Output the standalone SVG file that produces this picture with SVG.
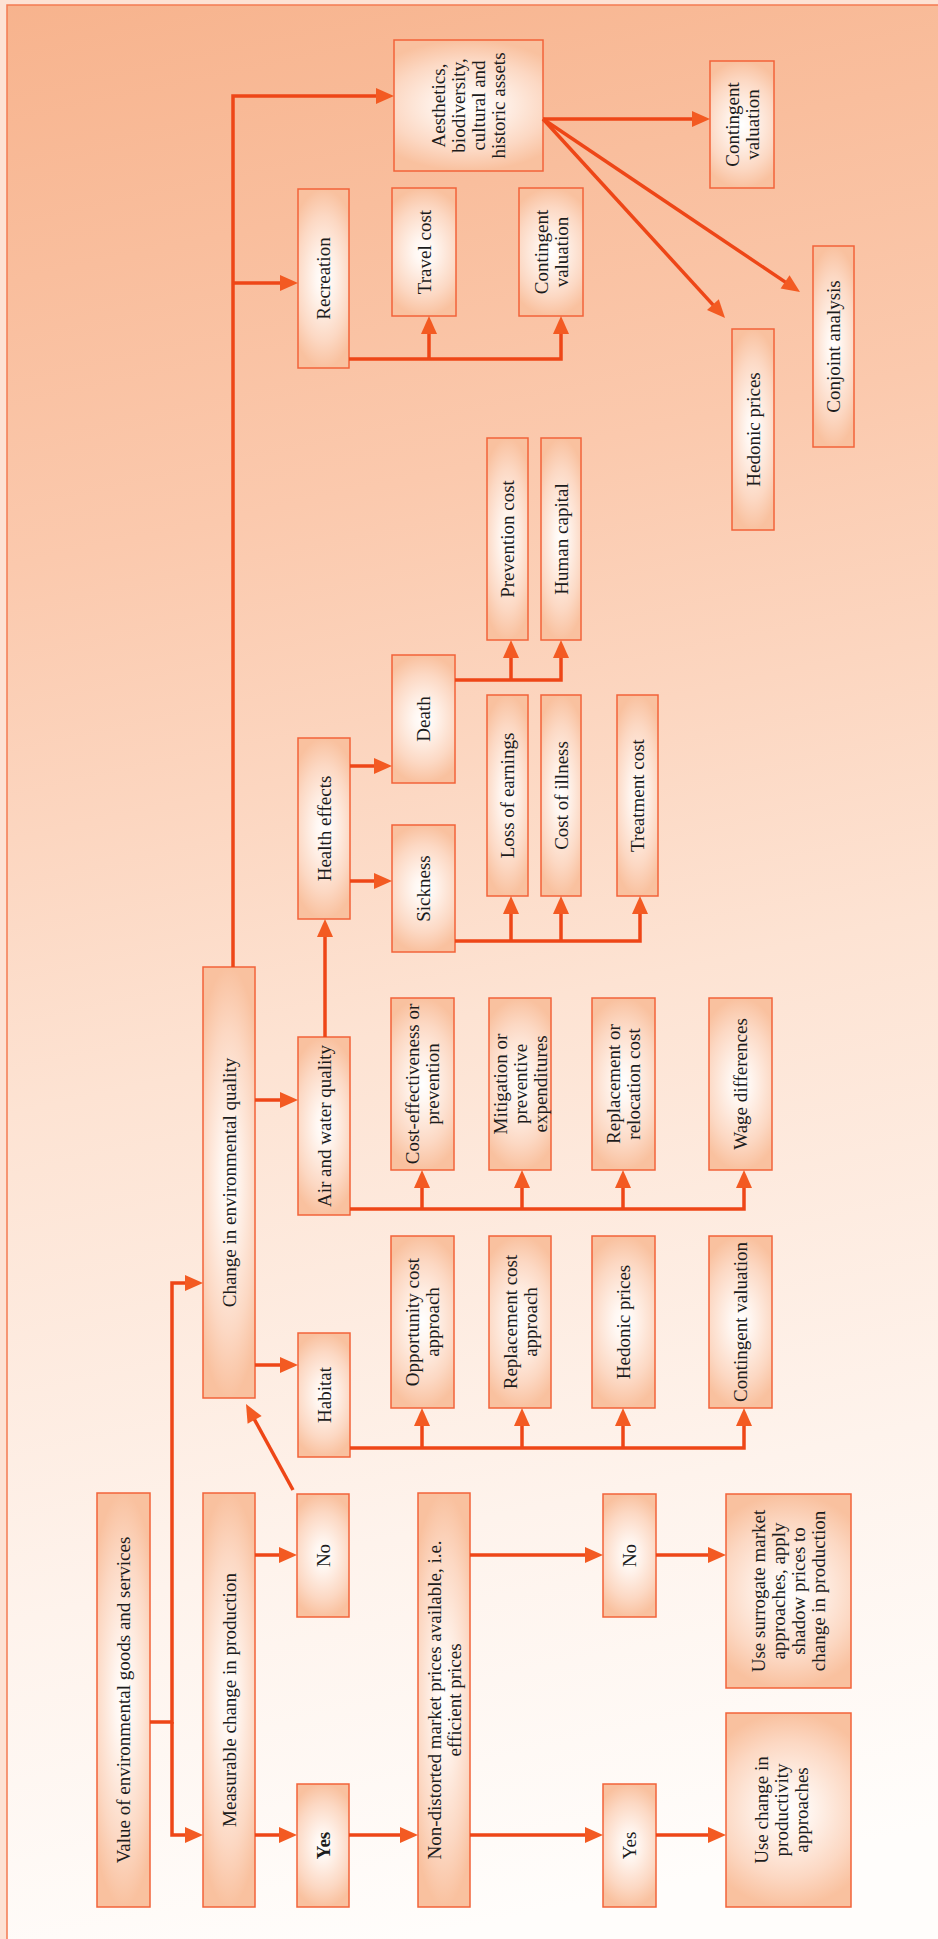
<svg xmlns="http://www.w3.org/2000/svg" width="938" height="1939" viewBox="0 0 938 1939">
<defs>
<linearGradient id="bg" gradientUnits="userSpaceOnUse" x1="0" y1="0" x2="420" y2="1939">
<stop offset="0" stop-color="#f7b38d"/>
<stop offset="0.28" stop-color="#fbc9ad"/>
<stop offset="0.55" stop-color="#fde3d3"/>
<stop offset="0.8" stop-color="#fef3ec"/>
<stop offset="1" stop-color="#fffdfb"/>
</linearGradient>
<radialGradient id="nodeFill" cx="0.5" cy="0.5" r="0.5" gradientTransform="translate(0.5 0.5) scale(1.5 1) translate(-0.5 -0.5)">
<stop offset="0" stop-color="#ffffff"/>
<stop offset="0.2" stop-color="#fff7f2"/>
<stop offset="0.7" stop-color="#fcd8c3"/>
<stop offset="1" stop-color="#f9c19f"/>
</radialGradient>
<marker id="arr" markerUnits="userSpaceOnUse" markerWidth="20" markerHeight="18" refX="8" refY="8" orient="auto" overflow="visible">
<path d="M0,0 L18,8 L0,16 Z" fill="#f35a22"/>
</marker>
<style>
.node rect{fill:url(#nodeFill);stroke:#f2633a;stroke-width:1.5}
.node text{font-family:"Liberation Serif","Times New Roman",serif;font-size:19px;fill:#1c1c1c;text-anchor:middle}
.conn path{fill:none;stroke:#ee4617;stroke-width:3.5;stroke-linejoin:miter}
.conn path.a{marker-end:url(#arr)}
</style>
</defs>
<rect x="0" y="0" width="938" height="1939" fill="#fde2d4"/>
<rect x="7" y="5" width="940" height="1944" fill="url(#bg)" stroke="#f47b52" stroke-width="1.5"/>

<g id="value" class="node"><rect x="97" y="1493" width="53" height="414"/><text transform="translate(123.5 1700) rotate(-90)" y="6.5">Value of environmental goods and services</text></g>
<g id="measurable" class="node"><rect x="203" y="1493" width="52" height="414"/><text transform="translate(229 1700) rotate(-90)" y="6.5">Measurable change in production</text></g>
<g id="no1" class="node"><rect x="297" y="1494" width="52" height="123"/><text transform="translate(323 1555.5) rotate(-90)" y="6.5">No</text></g>
<g id="yes1" class="node"><rect x="297" y="1784" width="52" height="123"/><text transform="translate(323 1845.5) rotate(-90)" y="6.5" font-weight="bold">Yes</text></g>
<g id="nondistorted" class="node"><rect x="418" y="1493" width="52" height="414"/><text transform="translate(444 1700) rotate(-90)"><tspan x="0" y="-3.5">Non-distorted market prices available, i.e.</tspan><tspan x="0" y="16.5">efficient prices</tspan></text></g>
<g id="no2" class="node"><rect x="603" y="1494" width="53" height="123"/><text transform="translate(629.5 1555.5) rotate(-90)" y="6.5">No</text></g>
<g id="yes2" class="node"><rect x="603" y="1784" width="53" height="123"/><text transform="translate(629.5 1845.5) rotate(-90)" y="6.5">Yes</text></g>
<g id="surrogate" class="node"><rect x="726" y="1494" width="125" height="194"/><text transform="translate(788.5 1591) rotate(-90)"><tspan x="0" y="-23.5">Use surrogate market</tspan><tspan x="0" y="-3.5">approaches, apply</tspan><tspan x="0" y="16.5">shadow prices to</tspan><tspan x="0" y="36.5">change in production</tspan></text></g>
<g id="productivity" class="node"><rect x="726" y="1713" width="125" height="194"/><text transform="translate(781 1810) rotate(-90)"><tspan x="0" y="-13.5">Use change in</tspan><tspan x="0" y="6.5">productivity</tspan><tspan x="0" y="26.5">approaches</tspan></text></g>
<g id="change_env" class="node"><rect x="203" y="967" width="52" height="431"/><text transform="translate(229 1182.5) rotate(-90)" y="6.5">Change in environmental quality</text></g>
<g id="habitat" class="node"><rect x="298" y="1333" width="52" height="124"/><text transform="translate(324 1395) rotate(-90)" y="6.5">Habitat</text></g>
<g id="air_water" class="node"><rect x="298" y="1037" width="52" height="178"/><text transform="translate(324 1126) rotate(-90)" y="6.5">Air and water quality</text></g>
<g id="opp_cost" class="node"><rect x="391" y="1236" width="63" height="172"/><text transform="translate(422.5 1322) rotate(-90)"><tspan x="0" y="-3.5">Opportunity cost</tspan><tspan x="0" y="16.5">approach</tspan></text></g>
<g id="repl_cost" class="node"><rect x="489" y="1236" width="62" height="172"/><text transform="translate(520 1322) rotate(-90)"><tspan x="0" y="-3.5">Replacement cost</tspan><tspan x="0" y="16.5">approach</tspan></text></g>
<g id="hedonic2" class="node"><rect x="592" y="1236" width="63" height="172"/><text transform="translate(623.5 1322) rotate(-90)" y="6.5">Hedonic prices</text></g>
<g id="cv3" class="node"><rect x="709" y="1236" width="63" height="172"/><text transform="translate(740.5 1322) rotate(-90)" y="6.5">Contingent valuation</text></g>
<g id="cost_eff" class="node"><rect x="391" y="998" width="63" height="172"/><text transform="translate(422.5 1084) rotate(-90)"><tspan x="0" y="-3.5">Cost-effectiveness or</tspan><tspan x="0" y="16.5">prevention</tspan></text></g>
<g id="mitigation" class="node"><rect x="489" y="998" width="62" height="172"/><text transform="translate(520 1084) rotate(-90)"><tspan x="0" y="-13.5">Mitigation or</tspan><tspan x="0" y="6.5">preventive</tspan><tspan x="0" y="26.5">expenditures</tspan></text></g>
<g id="repl_reloc" class="node"><rect x="592" y="998" width="63" height="172"/><text transform="translate(623.5 1084) rotate(-90)"><tspan x="0" y="-3.5">Replacement or</tspan><tspan x="0" y="16.5">relocation cost</tspan></text></g>
<g id="wage" class="node"><rect x="709" y="998" width="63" height="172"/><text transform="translate(740.5 1084) rotate(-90)" y="6.5">Wage differences</text></g>
<g id="health" class="node"><rect x="298" y="738" width="52" height="181"/><text transform="translate(324 828.5) rotate(-90)" y="6.5">Health effects</text></g>
<g id="sickness" class="node"><rect x="392" y="825" width="63" height="127"/><text transform="translate(423.5 888.5) rotate(-90)" y="6.5">Sickness</text></g>
<g id="death" class="node"><rect x="392" y="655" width="63" height="128"/><text transform="translate(423.5 719) rotate(-90)" y="6.5">Death</text></g>
<g id="loss_earn" class="node"><rect x="487" y="695" width="41" height="201"/><text transform="translate(507.5 795.5) rotate(-90)" y="6.5">Loss of earnings</text></g>
<g id="cost_ill" class="node"><rect x="541" y="695" width="40" height="201"/><text transform="translate(561 795.5) rotate(-90)" y="6.5">Cost of illness</text></g>
<g id="treatment" class="node"><rect x="617" y="695" width="41" height="201"/><text transform="translate(637.5 795.5) rotate(-90)" y="6.5">Treatment cost</text></g>
<g id="prevention" class="node"><rect x="487" y="438" width="41" height="202"/><text transform="translate(507.5 539) rotate(-90)" y="6.5">Prevention cost</text></g>
<g id="human" class="node"><rect x="541" y="438" width="40" height="202"/><text transform="translate(561 539) rotate(-90)" y="6.5">Human capital</text></g>
<g id="recreation" class="node"><rect x="298" y="189" width="51" height="179"/><text transform="translate(323.5 278.5) rotate(-90)" y="6.5">Recreation</text></g>
<g id="travel" class="node"><rect x="392" y="188" width="64" height="128"/><text transform="translate(424 252) rotate(-90)" y="6.5">Travel cost</text></g>
<g id="cv2" class="node"><rect x="519" y="188" width="64" height="128"/><text transform="translate(551 252) rotate(-90)"><tspan x="0" y="-3.5">Contingent</tspan><tspan x="0" y="16.5">valuation</tspan></text></g>
<g id="aesthetics" class="node"><rect x="394" y="40" width="149" height="131"/><text transform="translate(468.5 105.5) rotate(-90)"><tspan x="0" y="-23.5">Aesthetics,</tspan><tspan x="0" y="-3.5">biodiversity,</tspan><tspan x="0" y="16.5">cultural and</tspan><tspan x="0" y="36.5">historic assets</tspan></text></g>
<g id="cv1" class="node"><rect x="710" y="61" width="64" height="127"/><text transform="translate(742 124.5) rotate(-90)"><tspan x="0" y="-3.5">Contingent</tspan><tspan x="0" y="16.5">valuation</tspan></text></g>
<g id="hedonic1" class="node"><rect x="732" y="329" width="42" height="201"/><text transform="translate(753 429.5) rotate(-90)" y="6.5">Hedonic prices</text></g>
<g id="conjoint" class="node"><rect x="813" y="246" width="41" height="201"/><text transform="translate(833.5 346.5) rotate(-90)" y="6.5">Conjoint analysis</text></g>

<g id="connectors" class="conn">
<path class="a" d="M150,1722 H172 V1283 H193"/>
<path class="a" d="M172,1722 V1835 H193"/>
<path class="a" d="M255,1555 H287"/>
<path class="a" d="M255,1835 H287"/>
<path class="a" d="M349,1835 H408"/>
<path class="a" d="M470,1555 H593"/>
<path class="a" d="M470,1835 H593"/>
<path class="a" d="M656,1555 H716"/>
<path class="a" d="M656,1835 H716"/>
<path class="a" d="M293,1490 L250.8,1412.8"/>
<path class="a" d="M233,967 V96 H384"/>
<path class="a" d="M233,283 H288"/>
<path class="a" d="M255,1100 H288"/>
<path class="a" d="M255,1365 H288"/>
<path class="a" d="M325,1037 V929"/>
<path class="a" d="M350,766 H382"/>
<path class="a" d="M350,881 H382"/>
<path class="a" d="M455,680 H561 V650"/>
<path class="a" d="M511,680 V650"/>
<path class="a" d="M455,941 H640 V906"/>
<path class="a" d="M511,941 V906"/>
<path class="a" d="M561,941 V906"/>
<path class="a" d="M349,359 H561 V326"/>
<path class="a" d="M429,359 V326"/>
<path class="a" d="M543,119 H700"/>
<path class="a" d="M543,119 L718.3,310.6"/>
<path class="a" d="M543,119 L791.7,286.4"/>
<path class="a" d="M350,1209 H744 V1180"/>
<path class="a" d="M422,1209 V1180"/>
<path class="a" d="M522,1209 V1180"/>
<path class="a" d="M623,1209 V1180"/>
<path class="a" d="M350,1448 H744 V1418"/>
<path class="a" d="M422,1448 V1418"/>
<path class="a" d="M522,1448 V1418"/>
<path class="a" d="M623,1448 V1418"/>
</g>
</svg>
